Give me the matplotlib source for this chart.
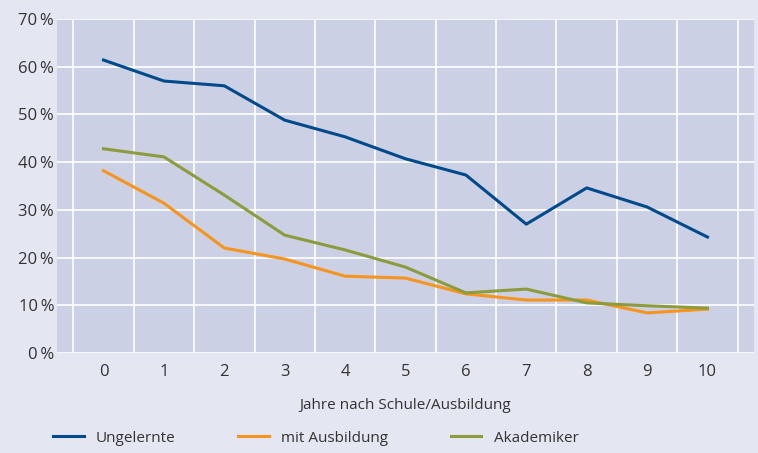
import matplotlib.pyplot as plt
from matplotlib.ticker import FixedLocator

plt.rcParams['font.family'] = ['Open Sans', 'DejaVu Sans']

# Data
jahre = list(range(11))
ungelernte = [61.4, 57.0, 56.0, 48.8, 45.3, 40.7, 37.3, 27.0, 34.6, 30.6, 24.3]
mit_ausbildung = [38.2, 31.4, 22.0, 19.7, 16.1, 15.7, 12.4, 11.1, 11.1, 8.4, 9.2]
akademiker = [42.8, 41.1, 33.1, 24.7, 21.6, 18.0, 12.6, 13.4, 10.5, 9.9, 9.4]
y_ticks = [0, 10, 20, 30, 40, 50, 60, 70]

bg = '#e4e6f1'
plot_bg = '#cbd0e4'
text_col = '#333333'

fig = plt.figure(figsize=(7.58, 4.53), dpi=100, facecolor=bg)
ax = fig.add_axes([57 / 758, 100 / 453, 697 / 758, 334 / 453])
ax.set_facecolor(plot_bg)

ax.plot(jahre, ungelernte, color='#004a8c', lw=2.2, label='Ungelernte')
ax.plot(jahre, mit_ausbildung, color='#f7941d', lw=2.2, label='mit Ausbildung')
ax.plot(jahre, akademiker, color='#8c9c3c', lw=2.2, label='Akademiker')

ax.set_xlim(-0.77, 10.77)
ax.set_ylim(0, 70)
ax.set_xticks(jahre)
ax.set_yticks(y_ticks)
ax.set_yticklabels([f'{v}\u2009%' for v in y_ticks])
ax.xaxis.set_minor_locator(FixedLocator([i - 0.5 for i in range(12)]))
ax.grid(axis='y', which='major', color='white', lw=1.2)
ax.grid(axis='x', which='minor', color='white', lw=1.2)
ax.set_axisbelow(True)
ax.tick_params(which='both', length=0, labelsize=12, colors=text_col)
ax.tick_params(axis='x', pad=8)
ax.tick_params(axis='y', pad=2)
for s in ax.spines.values():
    s.set_visible(False)

ax.set_xlabel('Jahre nach Schule/Ausbildung', fontsize=11, color=text_col, labelpad=13)

fig.legend(loc='center left', bbox_to_anchor=(47 / 758, 15 / 453), ncol=3,
           frameon=False, fontsize=11, handlelength=2.0, handletextpad=0.8,
           columnspacing=4.1, borderaxespad=0, labelcolor=text_col)

fig.savefig('out.png', dpi=100, facecolor=bg)
